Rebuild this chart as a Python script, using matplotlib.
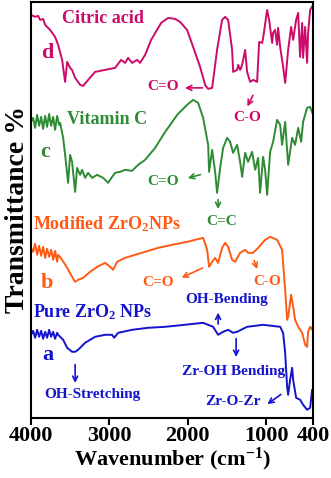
import matplotlib
matplotlib.use("Agg")
import matplotlib.pyplot as plt

plt.rcParams['font.family'] = ['Liberation Serif', 'DejaVu Serif']
plt.rcParams['font.weight'] = 'bold'
plt.rcParams['mathtext.fontset'] = 'custom'
plt.rcParams['mathtext.rm'] = 'Liberation Serif:bold'
plt.rcParams['mathtext.bf'] = 'Liberation Serif:bold'
plt.rcParams['mathtext.default'] = 'bf'

# citric acid (d)
wn_d = [4000, 3949, 3911, 3885, 3847, 3821, 3757, 3694, 3655, 3604, 3566, 3540, 3502, 3477,
        3438, 3374, 3336, 3272, 3183, 3055, 2928, 2851, 2800, 2762, 2711, 2647, 2609, 2545,
        2468, 2340, 2251, 2162, 2098, 2009, 1932, 1843, 1779, 1740, 1689, 1626, 1562, 1523,
        1485, 1434, 1421, 1370, 1357, 1332, 1306, 1268, 1243, 1204, 1166, 1115, 1089, 1051,
        1038, 987, 962, 923, 911, 885, 860, 847, 821, 783, 757, 719, 681, 655, 617, 591,
        566, 540, 528, 502, 477, 464, 438, 400]
t_d = [403, 401, 402, 398, 399, 393, 388, 381, 373, 358, 336, 356, 350, 348,
       340, 333, 332, 338, 346, 348, 350, 358, 355, 360, 355, 358, 355, 363,
       378, 395, 400, 399, 396, 388, 371, 351, 333, 329, 330, 368, 398, 401,
       398, 368, 346, 348, 353, 348, 353, 368, 346, 336, 338, 336, 376, 375,
       380, 408, 398, 375, 385, 388, 373, 390, 371, 351, 335, 368, 391, 378, 398, 405,
       361, 395, 360, 391, 355, 385, 408, 413]

# vitamin C (c)
wn_c = [4000, 3974, 3949, 3923, 3898, 3872, 3847, 3821, 3796, 3770, 3745, 3719, 3694, 3668,
        3643, 3630, 3591, 3566, 3528, 3502, 3477, 3438, 3413, 3374, 3349, 3311, 3272, 3221,
        3157, 3081, 3017, 2966, 2928, 2864, 2800, 2711, 2634, 2545, 2417, 2289, 2162, 2136,
        2009, 1932, 1868, 1804, 1740, 1728, 1689, 1651, 1626, 1587, 1549, 1498, 1460, 1421,
        1370, 1332, 1306, 1268, 1230, 1179, 1140, 1102, 1077, 1038, 1013, 987, 949, 911,
        860, 821, 796, 757, 719, 668, 630, 591, 553, 528, 477, 438, 400]
t_c = [296, 300, 290, 303, 292, 301, 289, 302, 291, 304, 292, 301, 288, 302,
       293, 295, 280, 263, 235, 263, 256, 226, 250, 243, 248, 240, 245, 240,
       243, 240, 235, 241, 245, 246, 248, 247, 253, 258, 270, 286, 300, 303,
       313, 318, 315, 300, 273, 246, 268, 246, 225, 250, 270, 280, 276, 265,
       273, 256, 241, 265, 256, 266, 248, 260, 225, 261, 248, 223, 266, 276,
       298, 293, 273, 296, 253, 280, 273, 290, 276, 296, 310, 311, 303]

# modified ZrO2 NPs (b)
wn_b = [4000, 3974, 3949, 3923, 3898, 3872, 3847, 3821, 3796, 3770, 3745, 3719, 3694, 3668,
        3655, 3604, 3540, 3477, 3438, 3400, 3336, 3247, 3157, 3055, 2992, 2953, 2902, 2800,
        2672, 2545, 2379, 2200, 2009, 1804, 1753, 1728, 1689, 1651, 1613, 1562, 1523, 1485,
        1434, 1396, 1332, 1268, 1230, 1166, 1102, 1013, 949, 860, 796, 757, 732, 719,
        681, 655, 630, 591, 540, 502, 477, 464, 438, 413, 400]
t_b = [170, 166, 174, 163, 172, 162, 171, 160, 169, 161, 168, 158, 167, 156,
       163, 158, 150, 141, 136, 138, 140, 146, 151, 155, 151, 148, 156, 160,
       163, 166, 170, 173, 176, 180, 168, 151, 156, 160, 155, 170, 175, 171,
       158, 156, 165, 168, 165, 165, 170, 178, 181, 178, 168, 128, 98, 101,
       123, 111, 98, 91, 85, 73, 71, 86, 91, 88, 93]

# pure ZrO2 NPs (a)
wn_a = [4000, 3974, 3949, 3923, 3898, 3872, 3847, 3821, 3796, 3770, 3745, 3719, 3694, 3668,
        3655, 3591, 3540, 3477, 3438, 3400, 3311, 3183, 3055, 2966, 2940, 2889, 2711, 2506,
        2289, 2162, 1804, 1677, 1613, 1549, 1485, 1421, 1370, 1243, 1038, 821, 783, 757,
        732, 719, 694, 668, 655, 617, 566, 528, 477, 438, 413, 400]
t_a = [83, 87, 80, 88, 81, 87, 79, 86, 80, 88, 81, 86, 79, 85,
       83, 78, 70, 66, 66, 68, 75, 81, 83, 83, 80, 85, 88, 90,
       91, 92, 95, 91, 83, 86, 88, 85, 86, 91, 93, 91, 85, 65,
       31, 23, 38, 50, 38, 20, 18, 13, 8, 10, 28, 23]

xticks = [4000, 3000, 2000, 1000, 400]

c_d = '#CC0A6A'
c_c = '#2E8B34'
c_b = '#FF5A14'
c_a = '#1414CC'

fig = plt.figure(figsize=(3.31, 4.78), dpi=100)
ax = fig.add_axes([0.094, 0.126, 0.852, 0.870])

lw = 1.4
ax.plot(wn_d, t_d, color=c_d, lw=lw)
ax.plot(wn_c, t_c, color=c_c, lw=lw)
ax.plot(wn_b, t_b, color=c_b, lw=lw)
ax.plot(wn_a, t_a, color=c_a, lw=lw)

ax.set_xlim(4000, 400)
ax.set_ylim(0, 416)
ax.set_xticks(xticks)
ax.set_xticklabels([str(v) for v in xticks], fontsize=16, fontweight='bold')
ax.set_yticks([])
ax.tick_params(axis='x', direction='out', length=5, width=1.5, pad=1)
for s in ax.spines.values():
    s.set_linewidth(1.5)

ax.set_xlabel('Wavenumber (cm$^{-1}$)', fontsize=16, fontweight='bold', labelpad=0)
ax.set_ylabel('Transmittance %', fontsize=20, fontweight='bold', labelpad=1)

fs = 11
fn = 13
fl = 16


def note(xy, xytext, color):
    ax.annotate('', xy=xy, xytext=xytext,
                arrowprops=dict(arrowstyle='->', color=color, lw=1.2, mutation_scale=9))


# curve names and letters
ax.text(3081, 399, 'Citric acid', color=c_d, fontsize=fn, ha='center', va='center')
ax.text(3796, 365, 'd', color=c_d, fontsize=fl, ha='center', va='center')
ax.text(3030, 298, 'Vitamin C', color=c_c, fontsize=fn, ha='center', va='center')
ax.text(3821, 266, 'c', color=c_c, fontsize=fl, ha='center', va='center')
ax.text(3974, 194, 'Modified ZrO$_2$NPs', color=c_b, fontsize=fn, ha='left', va='center')
ax.text(3796, 135, 'b', color=c_b, fontsize=fl, ha='center', va='center')
ax.text(3974, 106, 'Pure ZrO$_2$ NPs', color=c_a, fontsize=fn, ha='left', va='center')
ax.text(3783, 63, 'a', color=c_a, fontsize=fl, ha='center', va='center')

# band labels
ax.text(2315, 331, 'C=O', color=c_d, fontsize=fs, ha='center', va='center')
note((2072, 330), (1779, 330), c_d)
ax.text(1243, 300, 'C-O', color=c_d, fontsize=fs, ha='center', va='center')
note((1255, 309), (1153, 325), c_d)

ax.text(2315, 236, 'C=O', color=c_c, fontsize=fs, ha='center', va='center')
note((2034, 239), (1804, 244), c_c)
ax.text(1562, 196, 'C=C', color=c_c, fontsize=fs, ha='center', va='center')
note((1613, 206), (1613, 221), c_c)

ax.text(2379, 135, 'C=O', color=c_b, fontsize=fs, ha='center', va='center')
note((2111, 139), (1779, 151), c_b)
ax.text(987, 136, 'C-O', color=c_b, fontsize=fs, ha='center', va='center')
note((1102, 146), (1166, 160), c_b)

ax.text(3221, 23, 'OH-Stretching', color=c_a, fontsize=fs, ha='center', va='center')
note((3438, 32), (3438, 56), c_a)
ax.text(1498, 118, 'OH-Bending', color=c_a, fontsize=fs, ha='center', va='center')
note((1613, 108), (1613, 91), c_a)
ax.text(1421, 46, 'Zr-OH Bending', color=c_a, fontsize=fs, ha='center', va='center')
note((1383, 58), (1383, 82), c_a)
ax.text(1421, 16, 'Zr-O-Zr', color=c_a, fontsize=fs, ha='center', va='center')
note((1013, 12), (783, 25), c_a)

fig.savefig('out.png', dpi=100)
